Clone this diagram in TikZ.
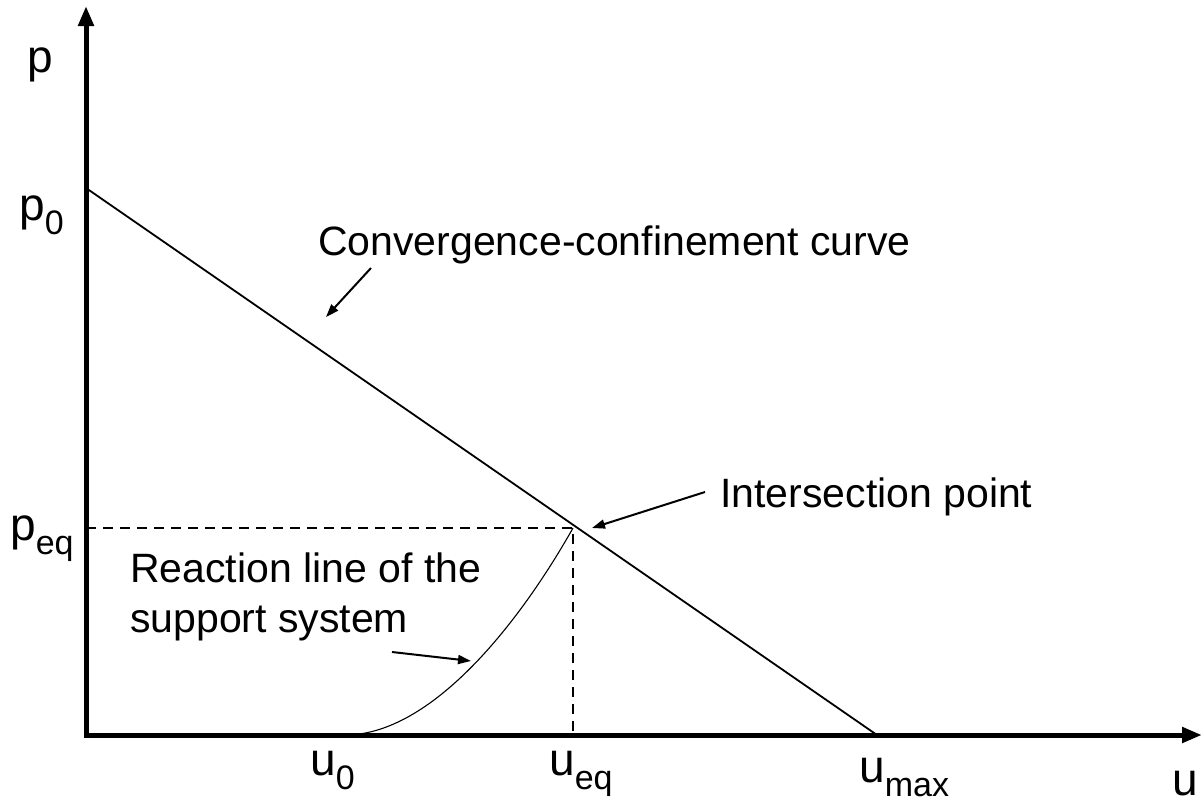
\documentclass[tikz,border=0pt]{standalone}
\usepackage{fontspec}
\setmainfont{Liberation Sans}
\usetikzlibrary{arrows.meta}
\newcommand{\sublab}[2]{#1{\fontsize{34}{40}\selectfont\raisebox{-14pt}{#2}}}
\begin{document}
\begin{tikzpicture}[x=1pt,y=-1pt,
  axis/.style={line width=5pt, line join=miter, {Triangle[length=20pt,width=15pt]}-{Triangle[length=20pt,width=15pt]}},
  curveline/.style={line width=1.8pt},
  thinline/.style={line width=1.1pt},
  ptr/.style={line width=2pt, -{Triangle[length=13pt,width=9pt]}},
  guide/.style={line width=1.8pt, dash pattern=on 10pt off 7pt},
  lbl/.style={font=\fontsize{46}{52}\selectfont, inner sep=0pt, anchor=base west},
  txt/.style={font=\fontsize{41}{50}\selectfont, inner sep=0pt, anchor=base west, align=left}]
\useasboundingbox (0,0) rectangle (1203,803);
% key points
\coordinate (O) at (86,735);
\coordinate (ytop) at (86,6);
\coordinate (xend) at (1202,735);
\coordinate (p0c) at (86,188);
\coordinate (umaxc) at (877,735);
\coordinate (eq) at (573,528);
\coordinate (peqc) at (86,528);
\coordinate (ueqc) at (573,735);
\coordinate (u0c) at (345,735);
% axes
\draw[axis] (ytop) -- (O) -- (xend);
% convergence-confinement curve
\draw[curveline] (p0c) -- (umaxc);
% guides
\draw[guide] (peqc) -- (eq) -- (ueqc);
% reaction line
\draw[thinline] (u0c) .. controls (432,735) and (520,622) .. (eq);
% labels
\node[lbl] (lp) at (27,72) {p};
\node[lbl] (lp0) at (19,220) {\sublab{p}{0}};
\node[lbl] (lpeq) at (10,540) {\sublab{p}{eq}};
\node[lbl] (lu0) at (310,775) {\sublab{u}{0}};
\node[lbl] (lueq) at (549,775) {\sublab{u}{eq}};
\node[lbl] (lumax) at (859,782) {\sublab{u}{max}};
\node[lbl] (lu) at (1172,795) {u};
% texts
\node[txt] (tcc) at (318,255) {Convergence-confinement curve};
\node[txt] (tip) at (720,507) {Intersection point};
\node[txt] (trl) at (130,632) {Reaction line of the\\support system};
% pointers
\coordinate (a1s) at (371,268);
\coordinate (a1e) at (326,317);
\coordinate (a2s) at (705,492);
\coordinate (a2e) at (592,528);
\coordinate (a3s) at (392,652);
\coordinate (a3e) at (471,661);
\draw[ptr] (a1s) -- (a1e);
\draw[ptr] (a2s) -- (a2e);
\draw[ptr] (a3s) -- (a3e);
\end{tikzpicture}
\end{document}
